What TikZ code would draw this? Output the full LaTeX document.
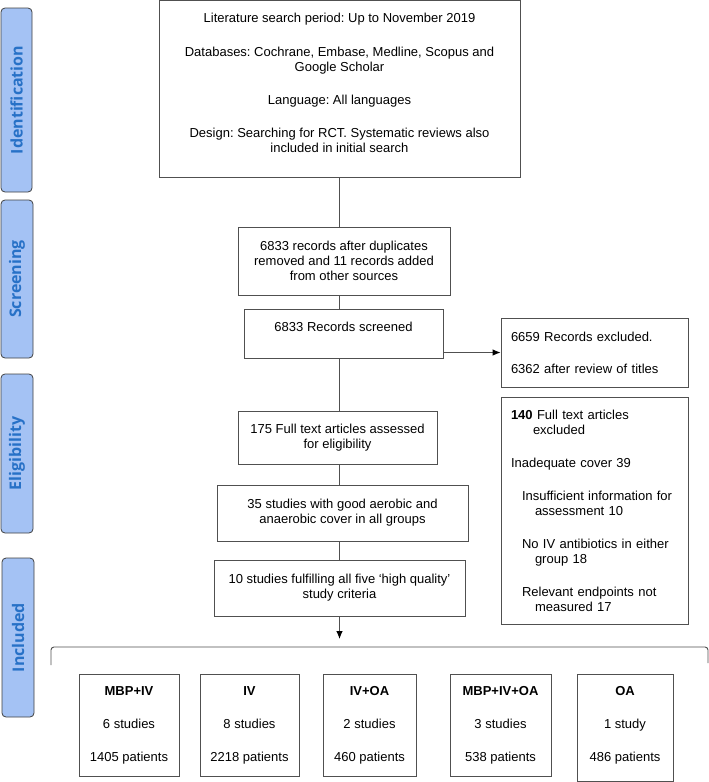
\documentclass[tikz,border=0pt]{standalone}
\usepackage{fontspec}
\setmainfont{Liberation Sans}
\newfontfamily\sidefont{Open Sans}
\usepackage{tikz}
\usetikzlibrary{arrows.meta}
\definecolor{sidefill}{HTML}{A4C2F4}
\definecolor{sidetext}{HTML}{2771C7}
\definecolor{linegray}{HTML}{505050}
\frenchspacing

\begin{document}
\begin{tikzpicture}[x=1pt,y=-1pt,>={Latex[length=8pt,width=6.5pt,black]},
	every node/.style = {font=\fontsize{13}{15}\selectfont},
	box/.style = {draw=linegray,line width=0.9pt,align=center,inner sep=0pt},
	side/.style = {draw=black!75,fill=sidefill,rounded corners=4pt,line width=0.8pt,rotate=90,text=sidetext,font=\sidefont\bfseries\fontsize{16}{18}\selectfont,inner sep=0pt},
	grp/.style = {box,minimum height=102pt}
	]
	\useasboundingbox (0,0) rectangle (709,782);
	%FASI
	\node[side,minimum width=184pt,minimum height=31pt] (ident) at (16.5,100) {Identification};
	\node[side,minimum width=158pt,minimum height=32pt] (screen) at (17,279) {Screening};
	\node[side,minimum width=159pt,minimum height=32pt] (elig) at (17,453.5) {Eligibility};
	\node[side,minimum width=159pt,minimum height=32pt] (incl) at (18,637.5) {Included};
	%COLONNA CENTRALE
	\node[box,minimum width=361pt,minimum height=177pt,
		label={[align=center,yshift=6pt]center:{Literature search period: Up to November 2019\\[19pt]
		Databases: Cochrane, Embase, Medline, Scopus and\\Google Scholar\\[18pt]
		Language: All languages\\[18pt]
		Design: Searching for RCT. Systematic reviews also\\included in initial search}}] (search) at (339.5,88.5) {};
	\node[box,minimum width=212pt,minimum height=68pt] (rec) at (344,261) {6833 records after duplicates\\removed and 11 records added\\from other sources};
	\node[box,minimum width=199pt,minimum height=49pt,
		label={[yshift=6.5pt]center:6833 Records screened}] (scr) at (343.5,333.5) {};
	\node[box,minimum width=199pt,minimum height=53pt] (full) at (337.5,437.5) {175 Full text articles assessed\\for eligibility};
	\node[box,minimum width=251pt,minimum height=56pt] (good) at (342.5,513) {35 studies with good aerobic and\\anaerobic cover in all groups};
	\node[box,minimum width=251pt,minimum height=56pt] (qual) at (339.5,588) {10 studies fulfilling all five `high quality'\\study criteria};
	%ESCLUSI
	\node[box,align=left,text width=167pt,inner xsep=10pt,minimum height=69pt] (excl) at (594.5,352.5) {6659 Records excluded.\\[17pt]6362 after review of titles};
	\node[box,align=left,text width=167pt,inner xsep=10pt,minimum height=227pt] (fexcl) at (594.5,510.5) {\textbf{140} Full text articles\\\hspace*{22pt}excluded\\[18pt]
		Inadequate cover 39\\[18pt]
		\hspace*{11pt}Insufficient information for\\\hspace*{24pt}assessment 10\\[18pt]
		\hspace*{11pt}No IV antibiotics in either\\\hspace*{24pt}group 18\\[18pt]
		\hspace*{11pt}Relevant endpoints not\\\hspace*{24pt}measured 17};
	%GRUPPI INCLUSI
	\node[grp,minimum width=100pt] (mbpiv) at (129,725) {\textbf{MBP+IV}\\[18pt]6 studies\\[18pt]1405 patients};
	\node[grp,minimum width=99pt] (iv) at (249.5,725) {\textbf{IV}\\[18pt]8 studies\\[18pt]2218 patients};
	\node[grp,minimum width=93pt] (ivoa) at (369.5,725) {\textbf{IV+OA}\\[18pt]2 studies\\[18pt]460 patients};
	\node[grp,minimum width=101pt] (mbpivoa) at (500.5,725) {\textbf{MBP+IV+OA}\\[18pt]3 studies\\[18pt]538 patients};
	\node[grp,minimum width=96pt,minimum height=107pt,
		label={[align=center,yshift=2.5pt]center:{\textbf{OA}\\[18pt]1 study\\[18pt]486 patients}}] (oa) at (625,727.5) {};
	%FRECCE
	\coordinate (tip) at (339.5,639);
	\draw[linegray,line width=0.9pt] (search.south) -- (search.south |- rec.north);
	\draw[linegray,line width=0.9pt] (search.south |- rec.south) -- (search.south |- scr.north);
	\draw[linegray,line width=0.9pt] (search.south |- scr.south) -- (search.south |- full.north);
	\draw[linegray,line width=0.9pt] (search.south |- full.south) -- (search.south |- good.north);
	\draw[linegray,line width=0.9pt] (search.south |- good.south) -- (search.south |- qual.north);
	\draw[linegray,line width=0.9pt,->] (qual.south) -- (tip);
	\draw[linegray,line width=0.9pt,->] (scr.east |- excl.west) -- (excl.west);
	%PARENTESI
	\draw[linegray,line width=0.9pt,rounded corners=3pt] (51,665) -- (51,647) -- (708,647) -- (708,663);
\end{tikzpicture}
\end{document}
